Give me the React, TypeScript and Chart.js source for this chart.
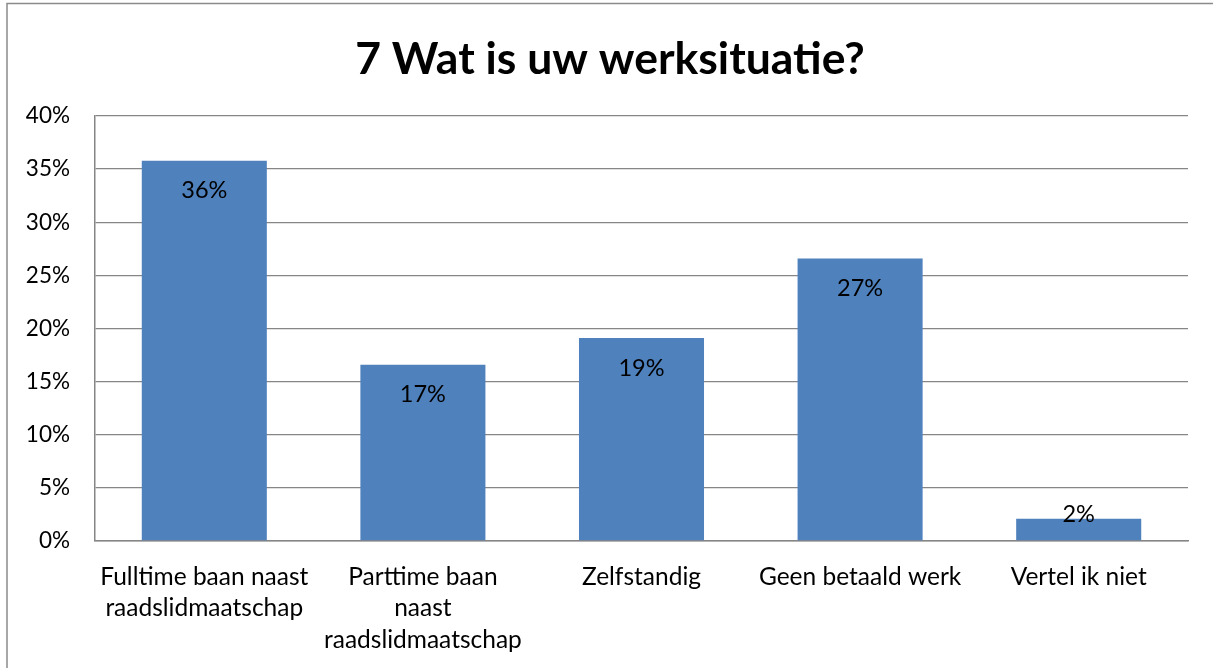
import React, { useEffect, useRef } from "react";
import { Chart, registerables } from "chart.js";
Chart.register(...registerables);

const TITLE = "7 Wat is uw werksituatie?";
const categories: string[][] = [
  ["Fulltime baan naast", "raadslidmaatschap"],
  ["Parttime baan", "naast", "raadslidmaatschap"],
  ["Zelfstandig"],
  ["Geen betaald werk"],
  ["Vertel ik niet"],
];
const values = [35.8, 16.6, 19.1, 26.6, 2.1];
const yMax = 40;
const yStep = 5;

const FONT = "Lato, 'Open Sans', sans-serif";
const BAR = "#4F81BD";
const GRID = "#868686";

const framePlugin = {
  id: "frame",
  beforeDraw(chart: any) {
    const { ctx, width, height } = chart;
    ctx.save();
    ctx.fillStyle = "#ffffff";
    ctx.fillRect(0, 0, width, height);
    ctx.strokeStyle = "#8a8a8a";
    ctx.lineWidth = 1.5;
    ctx.strokeRect(7, 3.5, width + 20, height + 20);
    ctx.fillStyle = "#000000";
    ctx.font = `bold 44.5px ${FONT}`;
    ctx.textAlign = "center";
    ctx.textBaseline = "middle";
    ctx.fillText(TITLE, 610, 60);
    ctx.restore();
  },
};

const labelPlugin = {
  id: "barLabels",
  afterDatasetsDraw(chart: any) {
    const { ctx } = chart;
    const meta = chart.getDatasetMeta(0);
    ctx.save();
    ctx.fillStyle = "#000000";
    ctx.font = `23.5px ${FONT}`;
    ctx.textAlign = "center";
    ctx.textBaseline = "middle";
    meta.data.forEach((bar: any, i: number) => {
      const y = Math.min(bar.y + 30, bar.base - 26);
      ctx.fillText(`${Math.round(values[i])}%`, bar.x, y);
    });
    ctx.restore();
  },
};

export default function App() {
  const ref = useRef<HTMLCanvasElement>(null);
  useEffect(() => {
    if (!ref.current) return;
    const chart = new Chart(ref.current, {
      type: "bar",
      data: {
        labels: categories,
        datasets: [
          {
            data: values,
            backgroundColor: BAR,
            borderWidth: 0,
            barPercentage: 0.572,
            categoryPercentage: 1,
          },
        ],
      },
      options: {
        responsive: false,
        animation: false,
        layout: { padding: { top: 116, right: 25, left: 0, bottom: 0 } },
        plugins: {
          legend: { display: false },
          title: { display: false },
          tooltip: { enabled: false },
        },
        scales: {
          x: {
            afterFit(scale: any) {
              scale.height = 127;
            },
            grid: { display: false, drawTicks: false },
            border: { display: true, color: GRID, width: 1.5 },
            ticks: {
              color: "#000000",
              font: { family: FONT, size: 24.5, lineHeight: 1.29 },
              padding: 20,
              maxRotation: 0,
              autoSkip: false,
            },
          },
          y: {
            min: 0,
            max: yMax,
            afterFit(scale: any) {
              scale.width = 95;
            },
            grid: { color: GRID, lineWidth: 1.3, drawTicks: false },
            border: { display: true, color: GRID, width: 1.5 },
            ticks: {
              stepSize: yStep,
              color: "#000000",
              font: { family: FONT, size: 22.5 },
              padding: 25,
              callback: (v: any) => `${v}%`,
            },
          },
        },
      },
      plugins: [framePlugin, labelPlugin],
    });
    return () => chart.destroy();
  }, []);
  return (
    <div style={{ position: "absolute", left: 0, top: 0, width: 1213, height: 668 }}>
      <canvas ref={ref} width={1213} height={668} style={{ display: "block" }} />
    </div>
  );
}
